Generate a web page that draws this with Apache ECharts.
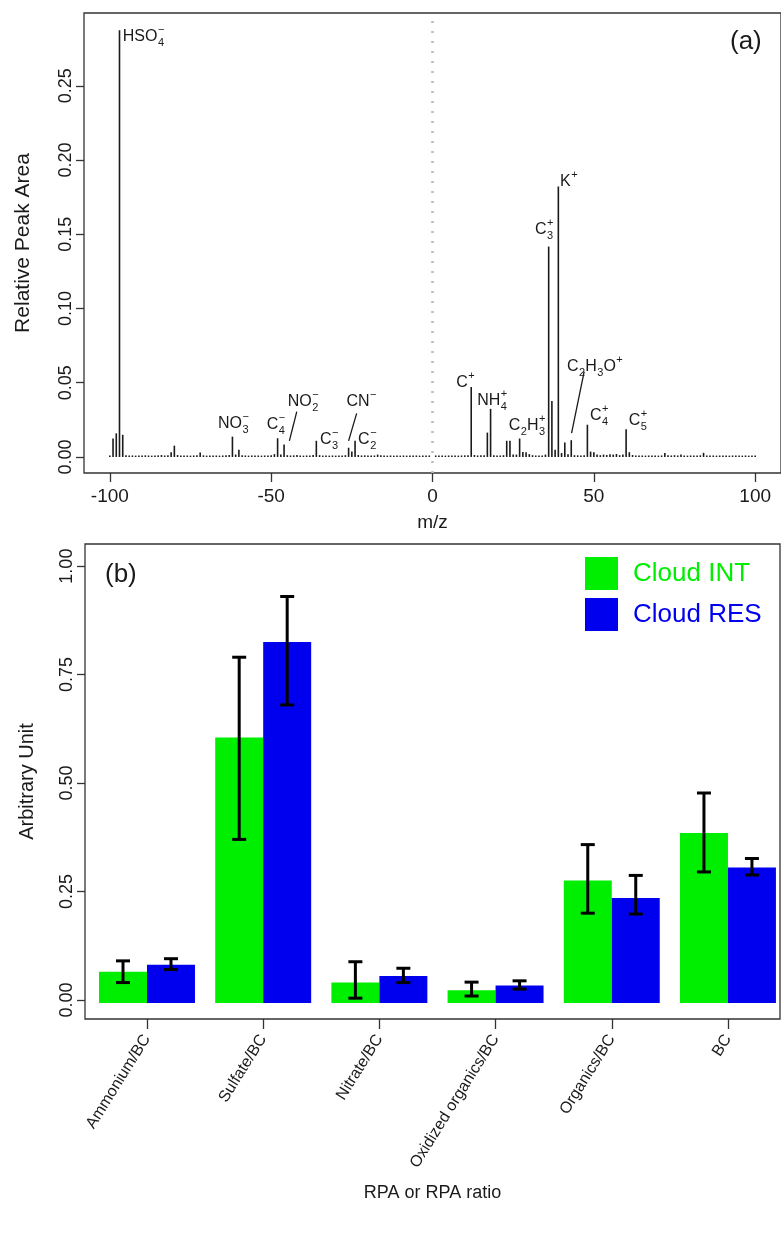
<!DOCTYPE html>
<html>
<head>
<meta charset="utf-8">
<script src="https://cdn.jsdelivr.net/npm/echarts@6/dist/echarts.min.js"></script>
<style>
  html, body { margin: 0; padding: 0; background: #fff; }
  #chart { width: 781px; height: 1233px; }
</style>
</head>
<body>
<div id="chart"></div>
<script>
// ---- panel (a): mean spectrum, relative peak area per m/z ----
// negative ions, m/z -100 ... -1
const negStartMz = -100;
const negArea = [
  0.0006, 0.012, 0.0155, 0.287, 0.0145, 0.0008, 0.0005, 0.0006, 0.0005, 0.0006,
  0.0005, 0.0007, 0.0006, 0.0005, 0.0006, 0.0007, 0.0009, 0.0006, 0.0008, 0.0028,
  0.0072, 0.0009, 0.0006, 0.0005, 0.0006, 0.0005, 0.0006, 0.0008, 0.0026, 0.0007,
  0.0005, 0.0006, 0.0005, 0.0006, 0.0005, 0.0006, 0.0007, 0.0009, 0.0133, 0.0012,
  0.0045, 0.0008, 0.0006, 0.0005, 0.0006, 0.0005, 0.0006, 0.0005, 0.0006, 0.0005,
  0.0007, 0.0015, 0.0122, 0.0012, 0.0080, 0.0008, 0.0006, 0.0007, 0.0009, 0.0006,
  0.0005, 0.0006, 0.0005, 0.0009, 0.0105, 0.0008, 0.0005, 0.0006, 0.0005, 0.0006,
  0.0005, 0.0006, 0.0005, 0.0008, 0.0058, 0.0032, 0.0105, 0.0009, 0.0006, 0.0007,
  0.0006, 0.0005, 0.0006, 0.0012, 0.0008, 0.0006, 0.0005, 0.0006, 0.0005, 0.0006,
  0.0005, 0.0006, 0.0005, 0.0006, 0.0005, 0.0006, 0.0005, 0.0006, 0.0005, 0.0006
];
// positive ions, m/z 1 ... 100
const posStartMz = 1;
const posArea = [
  0.0006, 0.0005, 0.0006, 0.0005, 0.0006, 0.0005, 0.0006, 0.0005, 0.0006, 0.0007,
  0.0008, 0.0467, 0.0009, 0.0006, 0.0007, 0.0008, 0.0160, 0.0320, 0.0008, 0.0006,
  0.0006, 0.0008, 0.0105, 0.0105, 0.0012, 0.0012, 0.0120, 0.0030, 0.0028, 0.0015,
  0.0008, 0.0006, 0.0005, 0.0006, 0.0012, 0.1413, 0.0373, 0.0045, 0.1817, 0.0022,
  0.0094, 0.0015, 0.0109, 0.0008, 0.0007, 0.0006, 0.0008, 0.0213, 0.0032, 0.0028,
  0.0012, 0.0008, 0.0012, 0.0009, 0.0015, 0.0012, 0.0016, 0.0008, 0.0012, 0.0182,
  0.0028, 0.0009, 0.0006, 0.0005, 0.0006, 0.0005, 0.0006, 0.0005, 0.0006, 0.0005,
  0.0006, 0.0022, 0.0007, 0.0006, 0.0008, 0.0006, 0.0012, 0.0006, 0.0005, 0.0006,
  0.0005, 0.0006, 0.0007, 0.0024, 0.0006, 0.0005, 0.0006, 0.0005, 0.0006, 0.0005,
  0.0006, 0.0005, 0.0006, 0.0005, 0.0006, 0.0005, 0.0006, 0.0005, 0.0006, 0.0005
];
const mzTicks = [-100, -50, 0, 50, 100];
const peakTicks = [0, 0.05, 0.10, 0.15, 0.20, 0.25];

// ion labels: position (m/z, area) of the label, anchor, formula pieces
const peakLabels = [
  { mz: -96.0, y: 0.283, align: 'left', segs: [{ t: 'HSO', sub: '4', sup: '−' }] },
  { mz: -61.7, y: 0.0222, align: 'center', segs: [{ t: 'NO', sub: '3', sup: '−' }] },
  { mz: -48.5, y: 0.0216, align: 'center', segs: [{ t: 'C', sub: '4', sup: '−' }] },
  { mz: -40.1, y: 0.0370, align: 'center', segs: [{ t: 'NO', sub: '2', sup: '−' }] },
  { mz: -34.9, y: 0.0115, align: 'left', segs: [{ t: 'C', sub: '3', sup: '−' }] },
  { mz: -22.0, y: 0.0370, align: 'center', segs: [{ t: 'CN', sup: '−' }] },
  { mz: -20.2, y: 0.0115, align: 'center', segs: [{ t: 'C', sub: '2', sup: '−' }] },
  { mz: 10.2, y: 0.0499, align: 'center', segs: [{ t: 'C', sup: '+' }] },
  { mz: 18.5, y: 0.0377, align: 'center', segs: [{ t: 'NH', sub: '4', sup: '+' }] },
  { mz: 29.3, y: 0.0209, align: 'center', segs: [{ t: 'C', sub: '2' }, { t: 'H', sub: '3', sup: '+' }] },
  { mz: 34.6, y: 0.1530, align: 'center', segs: [{ t: 'C', sub: '3', sup: '+' }] },
  { mz: 39.5, y: 0.1853, align: 'left', segs: [{ t: 'K', sup: '+' }] },
  { mz: 41.7, y: 0.0608, align: 'left', segs: [{ t: 'C', sub: '2' }, { t: 'H', sub: '3' }, { t: 'O', sup: '+' }] },
  { mz: 48.8, y: 0.0276, align: 'left', segs: [{ t: 'C', sub: '4', sup: '+' }] },
  { mz: 60.8, y: 0.0243, align: 'left', segs: [{ t: 'C', sub: '5', sup: '+' }] }
];
// leader lines from a peak to its label: [mz1, y1, mz2, y2]
const leaderLines = [
  [-44.35, 0.0108, -42.07, 0.0305],
  [-26.0, 0.0108, -23.5, 0.0294],
  [43.1, 0.0160, 47.0, 0.0575]
];

// ---- panel (b): RPA / RPA ratios ----
const categories = ['Ammonium/BC', 'Sulfate/BC', 'Nitrate/BC', 'Oxidized organics/BC', 'Organics/BC', 'BC'];
const intMean = [0.065, 0.605, 0.040, 0.022, 0.275, 0.385];
const intLow  = [0.040, 0.370, 0.004, 0.009, 0.200, 0.295];
const intHigh = [0.090, 0.790, 0.088, 0.041, 0.358, 0.477];
const resMean = [0.081, 0.825, 0.055, 0.033, 0.235, 0.305];
const resLow  = [0.070, 0.680, 0.040, 0.025, 0.198, 0.288];
const resHigh = [0.095, 0.930, 0.073, 0.044, 0.287, 0.326];
const unitTicks = [0, 0.25, 0.50, 0.75, 1.00];

const FONT = '"Liberation Sans", Arial, Helvetica, sans-serif';
const GREEN = '#00ee00';
const BLUE = '#0000ee';
const INK = '#1a1a1a';

const measureCtx = document.createElement('canvas').getContext('2d');
function textWidth(s, size) {
  measureCtx.font = size + 'px ' + FONT;
  return measureCtx.measureText(s).width;
}

function formulaChildren(lab, px, py) {
  const big = 16, small = 11;
  const parts = lab.segs.map(function (s) {
    const wm = textWidth(s.t, big);
    const ws = Math.max(s.sub ? textWidth(s.sub, small) : 0, s.sup ? textWidth(s.sup, small) : 0);
    return { s: s, wm: wm, ws: ws };
  });
  const total = parts.reduce(function (a, p) { return a + p.wm + p.ws + 0.5; }, 0);
  let cx = lab.align === 'left' ? px : px - total / 2;
  const out = [];
  parts.forEach(function (p) {
    out.push({ type: 'text', style: { text: p.s.t, x: cx, y: py, fontSize: big, fontFamily: FONT, fill: INK, align: 'left', verticalAlign: 'middle' } });
    cx += p.wm + 0.5;
    if (p.s.sub) out.push({ type: 'text', style: { text: p.s.sub, x: cx, y: py + 6, fontSize: small, fontFamily: FONT, fill: INK, align: 'left', verticalAlign: 'middle' } });
    if (p.s.sup) out.push({ type: 'text', style: { text: p.s.sup, x: cx, y: py - 7, fontSize: small, fontFamily: FONT, fill: INK, align: 'left', verticalAlign: 'middle' } });
    cx += p.ws;
  });
  return out;
}

const spectrum = [];
negArea.forEach(function (v, i) { spectrum.push([negStartMz + i, v]); });
posArea.forEach(function (v, i) { spectrum.push([posStartMz + i, v]); });

const catIndex = categories.map(function (c, i) { return i; });
const BAR_W = 0.413;

function barSeries(name, color, mean, low, high, side) {
  return {
    name: name,
    type: 'custom',
    xAxisIndex: 1,
    yAxisIndex: 1,
    itemStyle: { color: color },
    encode: { x: 0, y: [1, 2, 3] },
    data: catIndex.map(function (i) { return [i, mean[i], low[i], high[i]]; }),
    renderItem: function (params, api) {
      const i = api.value(0);
      const x0 = side < 0 ? i - BAR_W : i;
      const x1 = side < 0 ? i : i + BAR_W;
      const pTop = api.coord([x0, api.value(1)]);
      const pBot = api.coord([x1, 0]);
      const xc = api.coord([(x0 + x1) / 2, 0])[0];
      const yl = api.coord([i, api.value(2)])[1];
      const yh = api.coord([i, api.value(3)])[1];
      const cap = 7;
      const err = { stroke: '#000', lineWidth: 3 };
      return {
        type: 'group',
        children: [
          { type: 'rect', shape: { x: pTop[0], y: pTop[1], width: pBot[0] - pTop[0], height: pBot[1] - pTop[1] + 3 }, style: { fill: color } },
          { type: 'line', z2: 5, shape: { x1: xc, y1: yl, x2: xc, y2: yh }, style: err },
          { type: 'line', z2: 5, shape: { x1: xc - cap, y1: yl, x2: xc + cap, y2: yl }, style: err },
          { type: 'line', z2: 5, shape: { x1: xc - cap, y1: yh, x2: xc + cap, y2: yh }, style: err }
        ]
      };
    }
  };
}

const axisText = { color: INK, fontFamily: FONT };
const noLine = { show: false, onZero: false };

const chart = echarts.init(document.getElementById('chart'), null, { renderer: 'canvas' });
chart.setOption({
  animation: false,
  backgroundColor: '#fff',
  textStyle: { fontFamily: FONT },
  grid: [
    { left: 84, top: 13, width: 699, height: 460, show: true, borderColor: '#333', borderWidth: 1.3, backgroundColor: 'transparent' },
    { left: 85, top: 544, width: 695, height: 475, show: true, borderColor: '#333', borderWidth: 1.3, backgroundColor: 'transparent' }
  ],
  xAxis: [
    {
      type: 'value', gridIndex: 0, min: -108, max: 108,
      splitLine: { show: false },
      axisLine: noLine,
      axisTick: { show: true, customValues: mzTicks, length: 9, lineStyle: { color: '#333', width: 1.3 } },
      axisLabel: { customValues: mzTicks, fontSize: 19, margin: 14, ...axisText },
      name: 'm/z', nameLocation: 'middle', nameGap: 40,
      nameTextStyle: { fontSize: 19, ...axisText }
    },
    {
      type: 'value', gridIndex: 1, min: -0.5336, max: 5.448,
      splitLine: { show: false },
      axisLine: noLine,
      axisTick: { show: true, customValues: catIndex, length: 10, lineStyle: { color: '#333', width: 1.3 } },
      axisLabel: {
        customValues: catIndex, rotate: 58, fontSize: 16, margin: 17, ...axisText,
        formatter: function (v) { return categories[Math.round(v)]; }
      },
      name: 'RPA or RPA ratio', nameLocation: 'middle', nameGap: 165,
      nameTextStyle: { fontSize: 18, ...axisText }
    }
  ],
  yAxis: [
    {
      type: 'value', gridIndex: 0, min: -0.0108, max: 0.299,
      splitLine: { show: false },
      axisLine: noLine,
      axisTick: { show: true, customValues: peakTicks, length: 8, lineStyle: { color: '#333', width: 1.3 } },
      axisLabel: {
        customValues: peakTicks, rotate: 90, fontSize: 18, margin: 9, ...axisText,
        formatter: function (v) { return v.toFixed(2); }
      },
      name: 'Relative Peak Area', nameLocation: 'middle', nameGap: 50,
      nameTextStyle: { fontSize: 21, ...axisText }
    },
    {
      type: 'value', gridIndex: 1, min: -0.044, max: 1.051,
      splitLine: { show: false },
      axisLine: noLine,
      axisTick: { show: true, customValues: unitTicks, length: 8, lineStyle: { color: '#333', width: 1.3 } },
      axisLabel: {
        customValues: unitTicks, rotate: 90, fontSize: 18, margin: 9, ...axisText,
        formatter: function (v) { return v.toFixed(2); }
      },
      name: 'Arbitrary Unit', nameLocation: 'middle', nameGap: 48,
      nameTextStyle: { fontSize: 20, ...axisText }
    }
  ],
  legend: {
    orient: 'vertical', left: 580, top: 552,
    itemWidth: 33, itemHeight: 33, itemGap: 8, icon: 'rect',
    selectedMode: false,
    textStyle: { fontSize: 26, fontFamily: FONT, padding: [0, 0, 0, 10] },
    data: [
      { name: 'Cloud INT', textStyle: { color: GREEN } },
      { name: 'Cloud RES', textStyle: { color: BLUE } }
    ]
  },
  graphic: [
    { type: 'text', left: 730, top: 29, style: { text: '(a)', fontSize: 26, fontFamily: FONT, fill: INK } },
    { type: 'text', left: 105, top: 562, style: { text: '(b)', fontSize: 26, fontFamily: FONT, fill: INK } }
  ],
  series: [
    {
      name: 'spectrum',
      type: 'custom',
      xAxisIndex: 0, yAxisIndex: 0,
      encode: { x: 0, y: 1 },
      data: spectrum,
      renderItem: function (params, api) {
        const p0 = api.coord([api.value(0), 0]);
        const p1 = api.coord([api.value(0), api.value(1)]);
        return { type: 'line', shape: { x1: p0[0], y1: p0[1], x2: p1[0], y2: p1[1] - 0.6 }, style: { stroke: INK, lineWidth: 1.6 } };
      },
      markLine: {
        silent: true, symbol: 'none', label: { show: false },
        lineStyle: { type: [2, 8], color: '#bbb', width: 2.5 },
        data: [{ xAxis: 0 }]
      }
    },
    {
      name: 'leaders',
      type: 'custom',
      xAxisIndex: 0, yAxisIndex: 0,
      encode: { x: [0, 2], y: [1, 3] },
      data: leaderLines,
      renderItem: function (params, api) {
        const a = api.coord([api.value(0), api.value(1)]);
        const b = api.coord([api.value(2), api.value(3)]);
        return { type: 'line', shape: { x1: a[0], y1: a[1], x2: b[0], y2: b[1] }, style: { stroke: INK, lineWidth: 1.3 } };
      }
    },
    {
      name: 'ion labels',
      type: 'custom',
      xAxisIndex: 0, yAxisIndex: 0,
      encode: { x: 0, y: 1 },
      data: peakLabels.map(function (l) { return [l.mz, l.y]; }),
      renderItem: function (params, api) {
        const lab = peakLabels[params.dataIndex];
        const p = api.coord([api.value(0), api.value(1)]);
        return { type: 'group', children: formulaChildren(lab, p[0], p[1]) };
      }
    },
    barSeries('Cloud INT', GREEN, intMean, intLow, intHigh, -1),
    barSeries('Cloud RES', BLUE, resMean, resLow, resHigh, 1)
  ]
});
</script>
</body>
</html>
